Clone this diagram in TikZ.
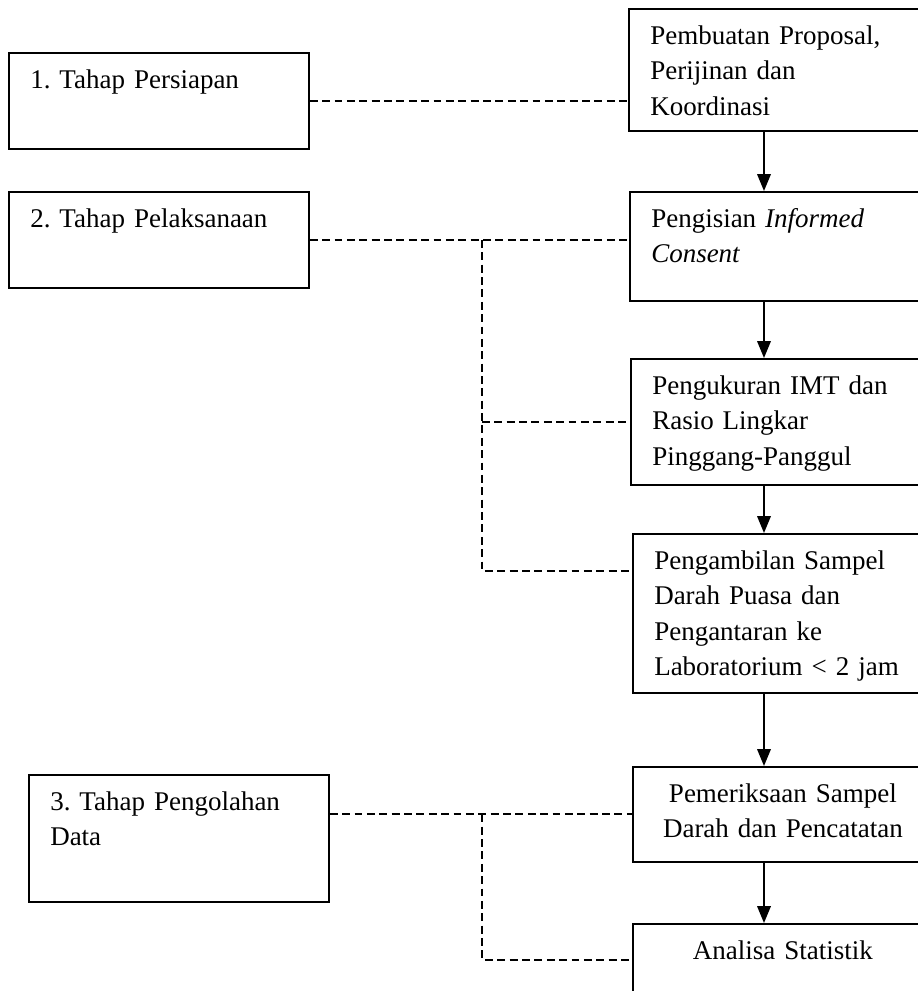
\documentclass[tikz,border=0pt]{standalone}
\usepackage{fontspec}
\setmainfont{Liberation Serif}
\usepackage{tikz}
\usetikzlibrary{arrows.meta,positioning,calc}
\frenchspacing

\begin{document}
\begin{tikzpicture}[x=0.4446pt,y=-0.4446pt,
        kotak/.style={draw,line width=0.8pt,anchor=north west,
                      text width=114.4pt,inner xsep=9.5pt,inner ysep=0pt,
                      text height=16pt,align=left,
                      font=\fontsize{12}{15.6}\selectfont},
        panah/.style={-{Triangle[length=7.5pt,width=6pt]},line width=0.8pt},
        garis/.style={line width=0.8pt,dash pattern=on 3.5pt off 2pt}]
        \clip (0,0) rectangle (918,991);
        % tahap (kiri)
        \node[kotak,text depth=26.7pt] (persiapan)   at (8,52)   {1. Tahap Persiapan};
        \node[kotak,text depth=26.7pt] (pelaksanaan) at (8,191)  {2. Tahap Pelaksanaan};
        \node[kotak,text depth=40.4pt] (pengolahan)  at (28,774) {3. Tahap Pengolahan\\Data};
        % langkah (kanan)
        \node[kotak,text depth=38.2pt] (proposal)    at (628,8)   {Pembuatan Proposal,\\Perijinan dan\\Koordinasi};
        \node[kotak,text depth=32.4pt] (consent)     at (629,191) {Pengisian \textit{Informed}\\\textit{Consent}};
        \node[kotak,text depth=40pt]   (imt)         at (630,358) {Pengukuran IMT dan\\Rasio Lingkar\\Pinggang-Panggul};
        \node[kotak,text depth=54.7pt] (sampel)      at (632,533) {Pengambilan Sampel\\Darah Puasa dan\\Pengantaran ke\\Laboratorium < 2 jam};
        \node[kotak,text depth=26.2pt,align=center] (periksa) at (632,766) {Pemeriksaan Sampel\\Darah dan Pencatatan};
        \node[kotak,text depth=16pt,align=center]   (analisa) at (632,923) {Analisa Statistik};
        \coordinate (alur) at (764,0);
        \coordinate (cabang) at (482,571);
        \draw[panah] (proposal.south -| alur) -- (consent.north -| alur);
        \draw[panah] (consent.south -| alur)  -- (imt.north -| alur);
        \draw[panah] (imt.south -| alur)      -- (sampel.north -| alur);
        \draw[panah] (sampel.south -| alur)   -- (periksa.north -| alur);
        \draw[panah] (periksa.south -| alur)  -- (analisa.north -| alur);
        \draw[garis] (persiapan.east) -- (persiapan.east -| proposal.west);
        \draw[garis] (pelaksanaan.east) -- (pelaksanaan.east -| consent.west);
        \draw[garis] (pelaksanaan.east -| cabang) -- (cabang) -- (cabang -| sampel.west);
        \draw[garis] (imt.west -| cabang) -- (imt.west);
        \draw[garis] (pengolahan.east |- periksa.west) -- (periksa.west);
        \draw[garis] (periksa.west -| cabang) |- (analisa.west);
      \end{tikzpicture}
\end{document}
